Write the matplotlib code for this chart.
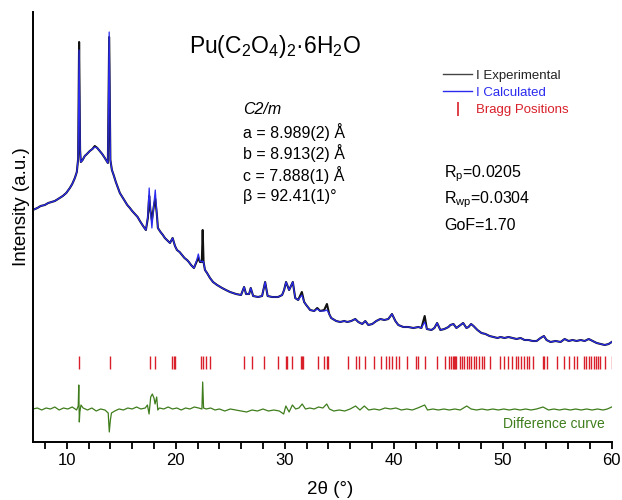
import matplotlib
matplotlib.use("Agg")
import matplotlib.pyplot as plt
from matplotlib.lines import Line2D
from matplotlib.ticker import MultipleLocator

plt.rcParams['font.family'] = ['Liberation Sans', 'DejaVu Sans']
plt.rcParams['mathtext.fontset'] = 'custom'
plt.rcParams['mathtext.rm'] = 'Liberation Sans'
plt.rcParams['mathtext.it'] = 'Liberation Sans:italic'

# ---- data ----
tth = [6.88, 7.3, 7.6, 7.98, 8.3, 8.6, 8.9, 9.2, 9.63, 9.95, 10.28, 10.5, 10.74, 10.92, 11.04, 11.13, 11.22,
       11.29, 11.45, 11.65, 11.85, 12.11, 12.35, 12.57, 12.8, 13.03, 13.25, 13.49, 13.77, 13.89, 14.0,
       14.14, 14.3, 14.5, 14.7, 14.87, 15.1, 15.33, 15.55, 15.79, 16.0, 16.25, 16.5, 16.71, 17.0, 17.26,
       17.44, 17.56, 17.67, 17.81, 17.99, 18.12, 18.27, 18.36, 18.6, 18.82, 19.0, 19.19, 19.47, 19.71,
       19.93, 20.11, 20.35, 20.57, 20.8, 21.03, 21.2, 21.4, 21.67, 21.9, 22.07, 22.22, 22.39, 22.47,
       22.55, 22.68, 22.87, 23.14, 23.42, 23.79, 24.25, 24.6, 24.98, 25.25, 25.53, 25.99, 26.27, 26.45,
       26.73, 26.88, 27.1, 27.55, 27.92, 28.2, 28.43, 28.84, 29.39, 29.76, 29.94, 30.12, 30.4, 30.74,
       30.96, 31.23, 31.57, 31.78, 31.97, 32.33, 32.7, 32.98, 33.25, 33.62, 33.87, 34.08, 34.26, 34.72,
       35.09, 35.46, 35.74, 36.1, 36.47, 36.75, 37.11, 37.39, 37.67, 38.03, 38.4, 38.77, 39.14, 39.5,
       39.84, 40.15, 40.42, 40.88, 41.34, 41.8, 42.26, 42.54, 42.84, 43.04, 43.46, 43.73, 43.98, 44.28,
       44.65, 45.02, 45.2, 45.48, 45.75, 46.12, 46.37, 46.67, 46.86, 47.1, 47.32, 47.68, 48.05, 48.42,
       48.79, 49.15, 49.52, 49.8, 50.16, 50.53, 50.9, 51.27, 51.64, 52.0, 52.37, 52.74, 53.11, 53.47,
       53.78, 54.02, 54.39, 54.85, 55.31, 55.68, 56.05, 56.41, 56.78, 57.15, 57.52, 57.89, 58.25, 58.62,
       58.99, 59.36, 59.72, 60.0]
i_exp = [232, 234, 236, 237, 239, 240, 241, 243, 246, 249, 254, 258, 264, 270, 283, 400, 292,
         280, 282, 286, 288, 291, 293, 296, 294, 291, 288, 284, 279, 405, 282,
         272, 267, 260, 254, 249, 245, 241, 237, 234, 231, 228, 225, 221, 216, 212,
         224, 246, 232, 222, 236, 243, 227, 214, 210, 207, 204, 202, 199, 204,
         196, 192, 190, 187, 184, 182, 180, 177, 174, 180, 184, 180, 180, 212,
         180, 172, 169, 164, 160, 157, 154, 152, 150, 149, 148, 147, 155, 148,
         148, 154, 146, 145, 146, 160, 146, 145, 145, 147, 152, 160, 152, 160,
         144, 142, 150, 140, 137, 132, 131, 134, 131, 132, 138, 128, 124, 121,
         120, 121, 120, 121, 123, 120, 118, 121, 117, 118, 121, 123, 122, 123,
         128, 121, 117, 115, 115, 114, 115, 114, 126, 113, 112, 114, 119, 112,
         113, 115, 117, 118, 114, 117, 119, 114, 115, 118, 116, 112, 109, 108,
         106, 105, 104, 105, 104, 105, 104, 103, 104, 102, 102, 101, 101, 104,
         106, 102, 100, 101, 100, 103, 101, 102, 101, 102, 101, 103, 101, 99,
         98, 97, 98, 100]
i_calc = [232, 234, 236, 237, 239, 240, 241, 243, 246, 249, 254, 258, 264, 270, 283, 392, 292,
          280, 282, 286, 288, 291, 293, 295, 294, 291, 288, 284, 279, 410, 282,
          272, 267, 260, 254, 249, 245, 241, 237, 234, 231, 228, 225, 221, 216, 212,
          226, 254, 232, 214, 238, 252, 227, 214, 210, 207, 204, 202, 199, 204,
          196, 192, 190, 187, 184, 182, 180, 177, 174, 181, 188, 181, 180, 181,
          180, 172, 169, 164, 160, 157, 154, 152, 150, 149, 148, 147, 155, 148,
          148, 154, 146, 145, 146, 160, 146, 145, 145, 147, 152, 160, 152, 160,
          144, 142, 147, 140, 137, 132, 131, 133, 131, 131, 132, 128, 124, 121,
          120, 121, 120, 121, 123, 120, 118, 121, 117, 118, 121, 123, 122, 123,
          128, 121, 117, 115, 115, 114, 115, 114, 120, 113, 112, 114, 119, 112,
          113, 115, 117, 118, 114, 117, 119, 114, 115, 118, 116, 112, 109, 108,
          106, 105, 104, 105, 104, 105, 104, 103, 104, 102, 102, 101, 101, 104,
          106, 102, 100, 101, 100, 103, 101, 102, 101, 102, 101, 103, 101, 99,
          98, 97, 98, 100]

diff_tth = [6.9, 7.3, 7.7, 8.1, 8.5, 8.9, 9.3, 9.7, 10.1, 10.5, 10.9, 11.05, 11.1, 11.15, 11.2, 11.3,
            11.5, 11.9, 12.3, 12.7, 13.1, 13.5, 13.8, 13.9, 14.0, 14.1, 14.4, 14.8, 15.2, 15.6, 16.0,
            16.4, 16.8, 17.2, 17.4, 17.55, 17.7, 17.85, 18.0, 18.1, 18.25, 18.35, 18.5, 18.9, 19.3,
            19.7, 20.1, 20.5, 20.9, 21.3, 21.7, 22.1, 22.4, 22.47, 22.55, 22.8, 23.2, 23.6, 24.0,
            24.5, 25.0, 25.5, 26.0, 26.5, 27.0, 27.5, 28.0, 28.5, 29.0, 29.5, 29.9, 30.1, 30.4,
            30.7, 31.0, 31.3, 31.6, 31.9, 32.3, 32.7, 33.1, 33.5, 33.85, 34.1, 34.5, 35.0, 35.5,
            36.0, 36.5, 36.9, 37.3, 37.7, 38.2, 38.7, 39.2, 39.7, 40.2, 40.7, 41.2, 41.7, 42.2,
            42.84, 43.1, 43.6, 44.1, 44.6, 45.1, 45.6, 46.1, 46.7, 47.1, 47.6, 48.1, 48.6, 49.1,
            49.6, 50.1, 50.6, 51.1, 51.6, 52.1, 52.6, 53.1, 53.7, 54.2, 54.7, 55.2, 55.7, 56.2,
            56.7, 57.2, 57.7, 58.2, 58.7, 59.2, 59.6, 60.0]
diff_val = [33, 34, 32, 34, 33, 35, 32, 34, 33, 35, 32, 36, 57, 20, 30, 37,
            34, 32, 34, 31, 33, 32, 29, 10, 22, 29, 31, 33, 32, 34, 33,
            35, 33, 34, 37, 28, 45, 48, 44, 38, 45, 32, 34, 33, 35,
            33, 34, 32, 34, 33, 35, 34, 33, 60, 34, 33, 34, 32, 33,
            31, 33, 32, 31, 30, 32, 31, 33, 31, 32, 31, 28, 36, 30,
            37, 33, 34, 38, 33, 34, 33, 35, 34, 38, 33, 31, 32, 31,
            33, 36, 32, 36, 32, 33, 32, 34, 33, 34, 32, 33, 32, 34,
            37, 32, 33, 32, 33, 32, 33, 32, 36, 33, 32, 33, 32, 33,
            32, 33, 32, 33, 32, 33, 32, 33, 35, 32, 33, 32, 33, 32,
            33, 32, 33, 32, 33, 32, 33, 35]

bragg = [11.13, 13.94, 17.6, 18.12, 19.7, 19.8, 19.9, 22.3, 22.5, 22.8, 23.1, 26.25, 26.95, 28.1,
         29.4, 30.1, 30.2, 30.7, 31.5, 31.6, 31.7, 33.06, 33.6, 33.85, 34.0, 35.8, 36.5, 36.8,
         37.35, 38.2, 38.8, 39.27, 39.57, 39.88, 40.18, 40.46, 41.26, 42.03, 42.23, 42.85, 43.98,
         44.72, 45.1, 45.25, 45.4, 45.5, 45.65, 45.75, 46.06, 46.27, 46.48, 46.73, 46.88, 47.1,
         47.34, 47.56, 47.8, 48.11, 48.26, 48.85, 49.72, 50.14, 50.45, 50.82, 51.2, 51.43, 51.68,
         51.98, 52.2, 52.44, 52.8, 53.68, 53.83, 54.08, 55.0, 55.65, 56.11, 56.51, 56.82, 57.43,
         57.67, 57.89, 58.1, 58.35, 58.56, 58.77, 58.96, 59.39, 60.0]
bragg_lo, bragg_hi = 73, 86

x_ticks = [10, 20, 30, 40, 50, 60]

# ---- figure ----
fig = plt.figure(figsize=(6.22, 5.0), dpi=100)
ax = fig.add_axes([33/622, 58/500, (611.7-33)/622, 430/500])

c_exp = '#111111'
c_calc = '#2b2bf0'
c_red = '#d9202a'
c_green = '#3f7d1c'

ax.plot(tth, i_exp, color=c_exp, lw=1.5)
ax.plot(tth, i_calc, color=c_calc, lw=0.9)
ax.vlines(bragg, bragg_lo, bragg_hi, color=c_red, lw=1.0)
ax.plot(diff_tth, diff_val, color=c_green, lw=0.9)

ax.set_xlim(6.9, 60)
ax.set_ylim(0, 430)
ax.set_xticks(x_ticks)
ax.xaxis.set_minor_locator(MultipleLocator(2))
ax.tick_params(axis='x', which='both', direction='out', length=5, width=1.3, labelsize=12, pad=3)
ax.set_yticks([])
for s in ['top', 'right']:
    ax.spines[s].set_visible(False)
for s in ['left', 'bottom']:
    ax.spines[s].set_linewidth(1.4)

# texts
fig.text(275/622, 1-47/500, r'Pu(C$\mathregular{_2}$O$\mathregular{_4}$)$\mathregular{_2}$·6H$\mathregular{_2}$O',
         fontsize=16.5, ha='center', va='center')
fig.text(243/622, 1-110/500, 'C2/m', fontsize=11.5, style='italic', ha='left', va='center')
cell = ['a = 8.989(2) Å', 'b = 8.913(2) Å', 'c = 7.888(1) Å', 'β = 92.41(1)°']
for k, t in enumerate(cell):
    fig.text(243/622, 1-(132+21.5*k)/500, t, fontsize=11.5, ha='left', va='center')

fig.text(444/622, 1-174/500, r'R$\mathregular{_p}$=0.0205', fontsize=11.5, ha='left', va='center')
fig.text(444/622, 1-200/500, r'R$\mathregular{_{wp}}$=0.0304', fontsize=11.5, ha='left', va='center')
fig.text(444/622, 1-225/500, 'GoF=1.70', fontsize=11.5, ha='left', va='center')

fig.text(503/622, 1-424/500, 'Difference curve', fontsize=10, color=c_green, ha='left', va='center')

# legend
handles = [Line2D([], [], color='#444444', lw=1.0),
           Line2D([], [], color=c_calc, lw=1.0),
           Line2D([], [], color=c_red, lw=0, marker='|', markersize=10, markeredgewidth=1.2)]
labels = ['I Experimental', 'I Calculated', 'Bragg Positions']
leg = ax.legend(handles, labels, loc='upper left', bbox_to_anchor=(0.693, 0.888), frameon=False,
                fontsize=9.5, handlelength=2.2, handletextpad=0.3, labelspacing=0.38, borderpad=0.2)
for txt, col in zip(leg.get_texts(), ['#222222', '#2b2bf0', c_red]):
    txt.set_color(col)

fig.text(330/622, 1-490/500, '2θ (°)', fontsize=13.5, ha='center', va='center')
fig.text(22/622, 1-207/500, 'Intensity (a.u.)', fontsize=13.5, rotation=90, ha='center', va='center')

fig.savefig('out.png', dpi=100)
